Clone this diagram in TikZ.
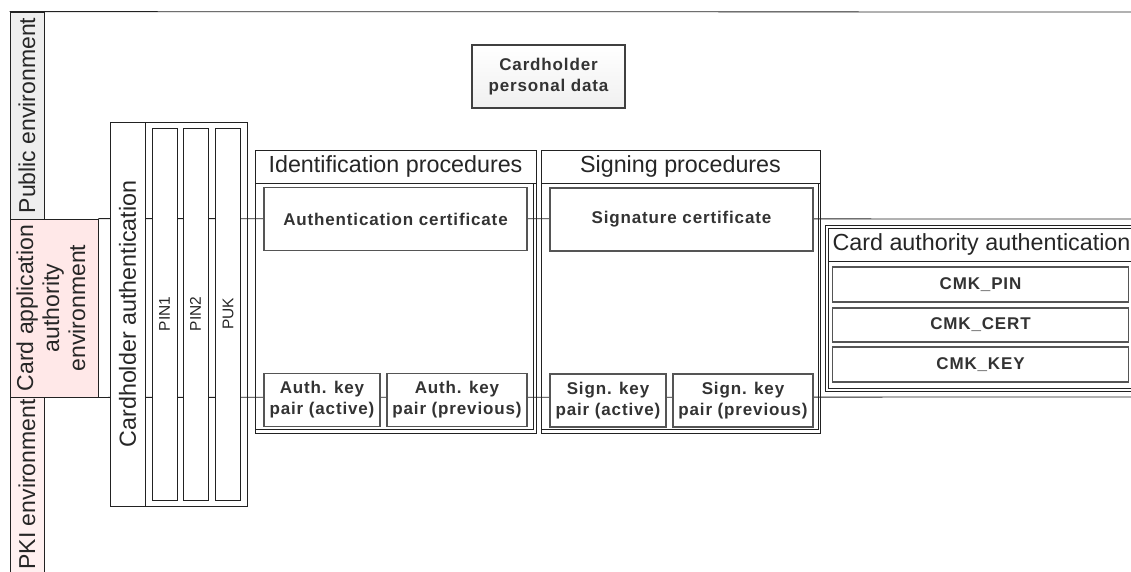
\documentclass[tikz,border=0pt]{standalone}
\usepackage{fontspec}
\setmainfont{Liberation Sans}
\newfontfamily\itemfont[LetterSpace=5]{Liberation Sans}
\definecolor{pubfill}{HTML}{EEEEEE}
\definecolor{cafill}{HTML}{FFE8E8}
\definecolor{pkifill}{HTML}{FFF0F0}
\definecolor{linecol}{HTML}{222222}
\definecolor{itemline}{HTML}{555555}
\tikzset{
  lanelabel/.style={draw=linecol, line width=0.8pt, inner sep=0pt, text=black!85,
    font=\fontsize{23}{26}\selectfont},
  laneline/.style={draw=linecol, line width=0.8pt},
  group/.style={draw=linecol, line width=0.8pt, inner sep=0pt},
  grouptitle/.style={group, fill=white, text=black!85, font=\fontsize{23.3}{26}\selectfont},
  item/.style={draw=itemline, line width=1.1pt, fill=white, inner sep=0pt, align=center,
    text=black!80, font=\itemfont\bfseries\fontsize{17}{21}\selectfont},
  pinbox/.style={draw=linecol, line width=0.8pt, fill=white, inner sep=0pt, text=black!85,
    minimum width=25, minimum height=372, font=\fontsize{15.5}{18}\selectfont},
}

\begin{document}
\begin{tikzpicture}[x=1pt, y=-1pt]
  \useasboundingbox (0,0) rectangle (1131,572);
  \clip (0,0) rectangle (1131,572);
  \coordinate (topend) at (1131,12);
  \coordinate (laneAend) at (1131,219);
  \coordinate (laneBend) at (1131,397);

  % lanes
  \node[lanelabel, fill=pubfill, minimum width=34, minimum height=207] (pubenv) at (27,115.5) {\rotatebox{90}{Public environment}};
  \node[lanelabel, fill=cafill, minimum width=88, minimum height=178] (caenv) at (54,308) {\rotatebox{90}{\begin{tabular}{@{}c@{}}Card application\\authority\\environment\end{tabular}}};
  \node[lanelabel, fill=pkifill, minimum width=34, minimum height=175] (pkienv) at (27,484.5) {\rotatebox{90}{PKI environment}};
  \draw[laneline] (pubenv.north west) -- (topend);
  \draw[laneline] (caenv.north east) -- (laneAend);
  \draw[laneline] (caenv.south east) -- (laneBend);

  % cardholder authentication
  \node[group, minimum width=137, minimum height=384] (chgroup) at (178.5,314) {};
  \node[grouptitle, minimum width=35, minimum height=384] (chtitle) at (127.5,314) {\rotatebox{90}{Cardholder authentication}};
  \node[pinbox] (pin1) at (164.5,314) {\rotatebox{90}{PIN1}};
  \node[pinbox] (pin2) at (195.5,314) {\rotatebox{90}{PIN2}};
  \node[pinbox] (puk) at (228,314) {\rotatebox{90}{PUK}};

  % identification procedures
  \node[group, minimum width=281, minimum height=283] (idgroup) at (395.5,291.5) {};
  \node[group, minimum width=278, minimum height=246] (idbody) at (394,306) {};
  \node[grouptitle, minimum width=281, minimum height=33] (idtitle) at (395.5,166.5) {Identification procedures};
  \node[item, minimum width=263, minimum height=63] (authcert) at (395.5,219) {Authentication certificate};
  \node[item, minimum width=116, minimum height=53] (authact) at (322,400) {Auth. key\\pair (active)};
  \node[item, minimum width=140, minimum height=53] (authprev) at (457,400) {Auth. key\\pair (previous)};

  % signing procedures
  \node[group, minimum width=279, minimum height=283] (sggroup) at (680.5,291.5) {};
  \node[group, minimum width=277, minimum height=246] (sgbody) at (679.5,306) {};
  \node[grouptitle, minimum width=279, minimum height=33] (sgtitle) at (680.5,166.5) {Signing procedures};
  \node[item, minimum width=263, minimum height=63] (sigcert) at (681.5,219.5) {Signature certificate};
  \node[item, minimum width=116, minimum height=53] (signact) at (608,400.5) {Sign. key\\pair (active)};
  \node[item, minimum width=140, minimum height=53] (signprev) at (743,400.5) {Sign. key\\pair (previous)};

  % card authority authentication
  \node[group, minimum width=310, minimum height=166] (caagroup) at (980,308) {};
  \node[group, minimum width=307, minimum height=160] (caabody) at (981.5,308) {};
  \node[grouptitle, minimum width=307, minimum height=33] (caatitle) at (981.5,244.5) {Card authority authentication};
  \node[item, minimum width=296, minimum height=35] (cmkpin) at (980.5,284.5) {CMK\_PIN};
  \node[item, minimum width=296, minimum height=34] (cmkcert) at (980.5,325) {CMK\_CERT};
  \node[item, minimum width=296, minimum height=35] (cmkkey) at (980.5,364.5) {CMK\_KEY};

  \node[item, draw=black!75, top color=white, bottom color=black!6, minimum width=153, minimum height=63] (chdata) at (548.5,76.5) {Cardholder\\personal data};
\end{tikzpicture}
\end{document}
